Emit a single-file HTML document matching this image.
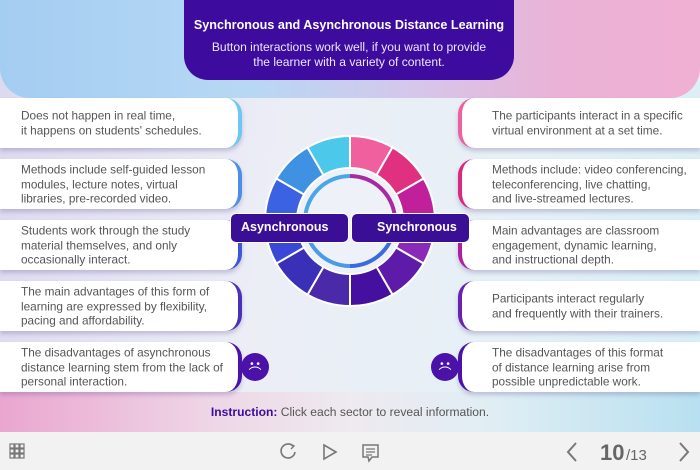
<!DOCTYPE html>
<html><head><meta charset="utf-8"><style>
*{margin:0;padding:0;box-sizing:border-box}
body{width:700px;height:470px;overflow:hidden;font-family:"Liberation Sans",sans-serif;position:relative;background:#eef0f6}
.bg{position:absolute;left:0;top:0;width:700px;height:432px;background:linear-gradient(100deg,#dcd8f0 0%,#eceef6 40%,#e6f0f6 70%,#d8eef6 100%)}
.topband{position:absolute;left:0;top:0;width:700px;height:98px;border-radius:0 0 30px 30px;background:linear-gradient(90deg,#a4cdf2 0%,#b6d8f4 35%,#d6c6ea 60%,#eab2d6 80%,#f0b0d4 100%)}
.botband{position:absolute;left:0;top:392px;width:700px;height:40px;background:linear-gradient(90deg,#eaa6d0 0%,#eed6e6 30%,#eeeaf0 50%,#e0eef4 70%,#b8e0f0 100%)}
.title{position:absolute;left:184px;top:0;width:330px;height:80px;background:#3d0c9e;border-radius:0 0 24px 24px;color:#fff;text-align:center}
.title b{position:absolute;left:0;right:0;top:18px;font-size:12.6px}
.title p{position:absolute;left:0;right:0;top:40px;font-size:12.1px;line-height:14.5px;color:#ece6ff}
.card{position:absolute;width:242px;height:50px;background:#fff;font-size:11.8px;line-height:14.5px;color:#555;box-shadow:0 3px 4px rgba(80,60,140,.25)}
.L{left:0;border-radius:0 16px 16px 0;padding-left:21px;border-right:4px solid}
.R{left:458px;border-radius:16px 0 0 16px;padding-left:30px;border-left:4px solid}
.card span{position:absolute;top:50%;transform:translateY(-50%);white-space:nowrap}
.lab{position:absolute;top:213px;height:30px;width:119px;background:#3a0f96;border:1.5px solid #fff;color:#fff;font-weight:bold;font-size:12.5px;line-height:27px;border-radius:6px}
.face{position:absolute;top:353px;width:28px;height:28px;border-radius:50%;background:#4a12a8;color:#fff;font-size:10px;text-align:center;line-height:9px;padding-top:7px}
.tool{position:absolute;left:0;top:432px;width:700px;height:38px;background:#f2f2f2}
.ins{position:absolute;left:0;width:700px;top:405px;text-align:center;font-size:12.1px;color:#555}
</style></head><body>
<div class="bg"></div>
<div class="topband"></div>
<div class="botband"></div>
<div class="title"><b>Synchronous and Asynchronous Distance Learning</b><p>Button interactions work well, if you want to provide<br>the learner with a variety of content.</p></div>

<div class="card L" style="top:98px;border-color:#6cc8f0"><span>Does not happen in real time,<br>it happens on students' schedules.</span></div>
<div class="card L" style="top:159px;border-color:#4a8ee8"><span>Methods include self-guided lesson<br>modules, lecture notes, virtual<br>libraries, pre-recorded video.</span></div>
<div class="card L" style="top:220px;border-color:#3e56d8"><span>Students work through the study<br>material themselves, and only<br>occasionally interact.</span></div>
<div class="card L" style="top:281px;border-color:#4a30b8"><span>The main advantages of this form of<br>learning are expressed by flexibility,<br>pacing and affordability.</span></div>
<div class="card L" style="top:342px;border-color:#4a12a8"><span>The disadvantages of asynchronous<br>distance learning stem from the lack of<br>personal interaction.</span></div>

<div class="card R" style="top:98px;border-color:#f060a0"><span>The participants interact in a specific<br>virtual environment at a set time.</span></div>
<div class="card R" style="top:159px;border-color:#d82a80"><span>Methods include: video conferencing,<br>teleconferencing, live chatting,<br>and live-streamed lectures.</span></div>
<div class="card R" style="top:220px;border-color:#b0209a"><span>Main advantages are classroom<br>engagement, dynamic learning,<br>and instructional depth.</span></div>
<div class="card R" style="top:281px;border-color:#6a20b0"><span>Participants interact regularly<br>and frequently with their trainers.</span></div>
<div class="card R" style="top:342px;border-color:#4a12a8"><span>The disadvantages of this format<br>of distance learning arise from<br>possible unpredictable work.</span></div>

<div class="face" style="left:241px">• •<br><span style="font-size:13px">⌒</span></div>
<div class="face" style="left:431px">• •<br><span style="font-size:13px">⌒</span></div>

<svg id="d" style="position:absolute;left:0;top:0" width="700" height="432"></svg>
<div class="lab" style="left:230px;padding-left:10px">Asynchronous</div>
<div class="lab" style="left:351px;padding-left:25px">Synchronous</div>

<div class="ins"><b style="color:#3d0c9e">Instruction:</b> Click each sector to reveal information.</div>

<div class="tool">
<svg width="700" height="38" style="position:absolute;left:0;top:0">
<g fill="none" stroke="#777" stroke-width="1.2">
<rect x="10" y="12" width="4" height="4"/><rect x="15" y="12" width="4" height="4"/><rect x="20" y="12" width="4" height="4"/>
<rect x="10" y="17" width="4" height="4"/><rect x="15" y="17" width="4" height="4"/><rect x="20" y="17" width="4" height="4"/>
<rect x="10" y="22" width="4" height="4"/><rect x="15" y="22" width="4" height="4"/><rect x="20" y="22" width="4" height="4"/>
<path d="M293 14 A7 7 0 1 0 295 20" stroke-width="1.6"/><path d="M290 12 L294 14 L291 17" stroke-width="1.4"/>
<path d="M324 13 L336 20 L324 27 Z" stroke-width="1.6"/>
<path d="M363 13 H378 V25 H372 L369 29 L368 25 H363 Z" stroke-width="1.5"/><path d="M366 17H375M366 20H375M366 23H372"/>
<path d="M576 11 L568 20 L576 29" stroke-width="2"/>
<path d="M680 11 L688 20 L680 29" stroke-width="2"/>
</g>
<text x="600" y="28" font-family="Liberation Sans" font-size="22" font-weight="bold" fill="#666">10</text>
<text x="626" y="28" font-family="Liberation Sans" font-size="15" fill="#666">/13</text>
</svg>
</div>

<script>
var s=document.getElementById('d'),cx=350,cy=221,R=85,r=53,NS='http://www.w3.org/2000/svg';
var cols=['#f0609e','#e03080','#c0209a','#8a2ab8','#5e1aa8','#4510a0','#4a2aa8','#3a30b8','#3a48d8','#3a62e2','#3f92e2','#4cc8ea'];
function p(a,rr){var t=(a-90)*Math.PI/180;return [cx+rr*Math.cos(t),cy+rr*Math.sin(t)];}
for(var i=0;i<12;i++){var a0=i*30,a1=a0+30;var A=p(a0,R),B=p(a1,R),C=p(a1,r),D=p(a0,r);
var e=document.createElementNS(NS,'path');
e.setAttribute('d','M'+A+' A'+R+' '+R+' 0 0 1 '+B+' L'+C+' A'+r+' '+r+' 0 0 0 '+D+'Z');
e.setAttribute('fill',cols[i]);e.setAttribute('stroke','#fff');e.setAttribute('stroke-width','2');s.appendChild(e);}
var c=document.createElementNS(NS,'circle');c.setAttribute('cx',cx);c.setAttribute('cy',cy);c.setAttribute('r',51);c.setAttribute('fill','#eef2f8');s.appendChild(c);
function arc(a0,a1,col){var A=p(a0,45),B=p(a1,45);var e=document.createElementNS(NS,'path');e.setAttribute('d','M'+A+' A45 45 0 0 1 '+B);e.setAttribute('fill','none');e.setAttribute('stroke',col);e.setAttribute('stroke-width','4');s.appendChild(e);}
arc(-90,0,'#4aa6e8');arc(0,90,'#a82aa0');arc(90,180,'#3a6ae0');arc(180,270,'#4a9ae6');
</script>
</body></html>
